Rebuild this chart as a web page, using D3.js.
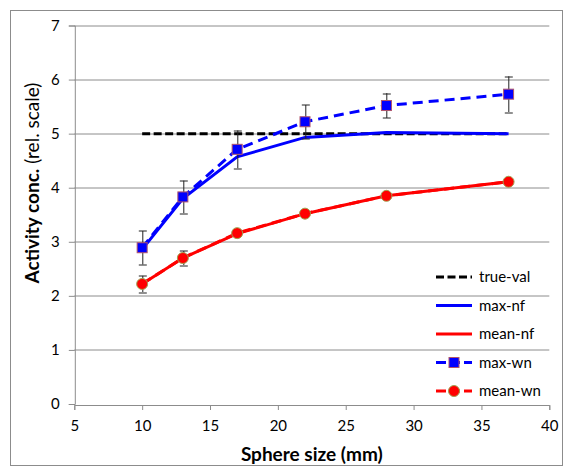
<!DOCTYPE html>
<html>
<head>
<meta charset="utf-8">
<script src="https://cdn.jsdelivr.net/npm/d3@7"></script>
<style>
  body { margin: 0; background: #fff; }
  svg text { font-family: Lato, "Open Sans", sans-serif; fill: #000; }
</style>
</head>
<body>
<svg id="chart" width="563" height="468"></svg>
<script>
// sphere sizes (mm)
var sizes = [10, 13, 17, 22, 28, 37];
var trueVal = [5, 5, 5, 5, 5, 5];
var maxNf = [2.86, 3.80, 4.57, 4.93, 5.02, 5.00];
var meanNf = [2.22, 2.70, 3.15, 3.52, 3.85, 4.11];
var maxWn = [2.89, 3.83, 4.71, 5.22, 5.52, 5.73];
var maxWnErr = [0.31, 0.30, 0.35, 0.31, 0.23, 0.33];
var meanWn = [2.22, 2.70, 3.16, 3.52, 3.85, 4.11];
var meanWnErr = [0.15, 0.13, 0.05, 0.04, 0.03, 0.03];
var xTicks = [5, 10, 15, 20, 25, 30, 35, 40];
var yTicks = [0, 1, 2, 3, 4, 5, 6, 7];
var seriesNames = ["true-val", "max-nf", "mean-nf", "max-wn", "mean-wn"];

// --- definitions ---
var margin = {top: 25.5, right: 13.7, bottom: 64, left: 74.3},
    W = 563, H = 468,
    width = W - margin.left - margin.right,
    height = H - margin.top - margin.bottom;

var svg = d3.select("#chart");

// outer chart border
svg.append("rect")
  .attr("x", 10.5).attr("y", 10.5)
  .attr("width", 552).attr("height", 455)
  .attr("fill", "none").attr("stroke", "#8c8c8c");

var g = svg.append("g")
  .attr("transform", "translate(" + margin.left + "," + margin.top + ")");

var x = d3.scaleLinear().domain([5, 40]).range([0, width]);
var y = d3.scaleLinear().domain([0, 7]).range([height, 0]);

// gridlines
g.selectAll(".grid")
  .data(yTicks.filter(function(d) { return d > 0; }))
  .enter().append("line")
  .attr("class", "grid")
  .attr("x1", 0).attr("x2", width)
  .attr("y1", function(d) { return Math.round(y(d)) + 0.5; })
  .attr("y2", function(d) { return Math.round(y(d)) + 0.5; })
  .attr("stroke", "#8c8c8c");

// axes
var xAxis = d3.axisBottom(x).tickValues(xTicks).tickSize(5).tickPadding(10).tickFormat(d3.format("d"));
var yAxis = d3.axisLeft(y).tickValues(yTicks).tickSize(6).tickPadding(9).tickFormat(d3.format("d"));

var gx = g.append("g")
  .attr("transform", "translate(0," + (Math.round(height) + 0.5) + ")")
  .call(xAxis);
var gy = g.append("g")
  .attr("transform", "translate(0.5,0)")
  .call(yAxis);

[gx, gy].forEach(function(ax) {
  ax.select(".domain").attr("stroke", "#8c8c8c");
  ax.selectAll(".tick line").attr("stroke", "#8c8c8c");
  ax.selectAll(".tick text").style("font-size", "15px").attr("fill", "#000");
});
gx.selectAll(".tick text").attr("dy", "0.71em");

// axis titles
svg.append("text")
  .attr("x", margin.left + width / 2)
  .attr("y", 461)
  .attr("text-anchor", "middle")
  .style("font-size", "19px")
  .style("font-weight", "bold")
  .text("Sphere size (mm)");

var yt = svg.append("text")
  .attr("transform", "translate(39,183) rotate(-90)")
  .attr("text-anchor", "middle")
  .style("font-size", "19px");
yt.append("tspan").style("font-weight", "bold").text("Activity conc.");
yt.append("tspan").text(" (rel. scale)");

// --- series ---
function pts(vals) {
  return sizes.map(function(s, i) { return {x: s, y: vals[i]}; });
}
var line = d3.line()
  .x(function(d) { return x(d.x); })
  .y(function(d) { return y(d.y); });

var series = [
  {name: "true-val", vals: trueVal, color: "#000000", dash: "8,3.5"},
  {name: "max-nf", vals: maxNf, color: "#0000ff", dash: null},
  {name: "mean-nf", vals: meanNf, color: "#ff0000", dash: null},
  {name: "max-wn", vals: maxWn, color: "#0000ff", dash: "10,6", err: maxWnErr, marker: "square"},
  {name: "mean-wn", vals: meanWn, color: "#ff0000", dash: "10,6", err: meanWnErr, marker: "circle"}
];

series.forEach(function(s) {
  g.append("path")
    .datum(pts(s.vals))
    .attr("d", line)
    .attr("fill", "none")
    .attr("stroke", s.color)
    .attr("stroke-width", 3)
    .attr("stroke-dasharray", s.dash);

  if (s.err) {
    var eb = g.append("g").selectAll("g")
      .data(pts(s.vals).map(function(d, i) { return {x: d.x, y: d.y, e: s.err[i]}; }))
      .enter().append("g")
      .attr("stroke", "#222").attr("stroke-width", 1);
    eb.append("line")
      .attr("x1", function(d) { return Math.round(x(d.x)) + 0.5; })
      .attr("x2", function(d) { return Math.round(x(d.x)) + 0.5; })
      .attr("y1", function(d) { return y(d.y + d.e); })
      .attr("y2", function(d) { return y(d.y - d.e); });
    [1, -1].forEach(function(sg) {
      eb.append("line")
        .attr("x1", function(d) { return Math.round(x(d.x)) - 3.5; })
        .attr("x2", function(d) { return Math.round(x(d.x)) + 4.5; })
        .attr("y1", function(d) { return Math.round(y(d.y + sg * d.e)) + 0.5; })
        .attr("y2", function(d) { return Math.round(y(d.y + sg * d.e)) + 0.5; });
    });
  }
  if (s.marker == "square") {
    g.selectAll(".sq").data(pts(s.vals)).enter().append("rect")
      .attr("x", function(d) { return x(d.x) - 5; })
      .attr("y", function(d) { return y(d.y) - 5; })
      .attr("width", 10).attr("height", 10)
      .attr("fill", "#0000ff").attr("stroke", "#b0546a").attr("stroke-width", 1);
  } else if (s.marker == "circle") {
    g.selectAll(".ci").data(pts(s.vals)).enter().append("circle")
      .attr("cx", function(d) { return x(d.x); })
      .attr("cy", function(d) { return y(d.y); })
      .attr("r", 5.5)
      .attr("fill", "#ff0000").attr("stroke", "#a0a050").attr("stroke-width", 1);
  }
});

// --- legend ---
var legend = svg.append("g").attr("transform", "translate(436,277)");
var items = legend.selectAll("g")
  .data(series)
  .enter().append("g")
  .attr("transform", function(d, i) { return "translate(0," + (i * 28.5) + ")"; });

items.append("line")
  .attr("x1", 0).attr("x2", 36)
  .attr("y1", 0).attr("y2", 0)
  .attr("stroke", function(d) { return d.color; })
  .attr("stroke-width", 3)
  .attr("stroke-dasharray", function(d) { return d.marker ? "10,4" : d.dash; });

items.filter(function(d) { return d.marker == "square"; }).append("rect")
  .attr("x", 13).attr("y", -5).attr("width", 10).attr("height", 10)
  .attr("fill", "#0000ff").attr("stroke", "#b0546a");
items.filter(function(d) { return d.marker == "circle"; }).append("circle")
  .attr("cx", 18).attr("cy", 0).attr("r", 5.5)
  .attr("fill", "#ff0000").attr("stroke", "#a0a050");

items.append("text")
  .attr("x", 43).attr("y", 5)
  .style("font-size", "15px")
  .text(function(d) { return d.name; });
</script>
</body>
</html>
